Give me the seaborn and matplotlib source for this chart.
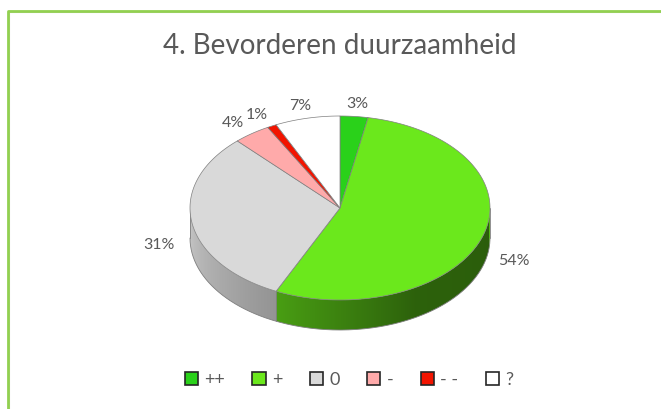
import numpy as np
import matplotlib.pyplot as plt
import seaborn as sns
from matplotlib.patches import Polygon, Patch
from matplotlib.colors import to_rgb

# data
labels = ['++', '+', '0', '-', '- -', '?']
values = [3, 54, 31, 4, 1, 7]
pct_labels = ['3%', '54%', '31%', '4%', '1%', '7%']
colors = ['#2AD11A', '#6BE81C', '#D9D9D9', '#FFAAAA', '#F21400', '#FFFFFF']
title = '4. Bevorderen duurzaamheid'

sns.set_theme(style='white')
plt.rcParams['font.family'] = ['Lato', 'DejaVu Sans']

fig = plt.figure(figsize=(6.61, 4.09), dpi=100)
ax = fig.add_axes([0, 0, 1, 1])
ax.set_xlim(0, 661)
ax.set_ylim(409, 0)
ax.axis('off')

# ellipse geometry of the 3D pie (pixel units)
cx, cy, rx, ry, depth = 340, 208, 150, 92, 30
edge = '#7f7f7f'

frac = np.array(values) / sum(values)
ends = 90 - 360 * np.cumsum(frac)
starts = ends + 360 * frac


def pt(t, dy=0.0):
    r = np.radians(t)
    return cx + rx * np.cos(r), cy - ry * np.sin(r) + dy


def shade(t):
    t = np.mod(t, 360)
    return np.interp(t, [180, 245, 300, 360], [0.92, 0.68, 0.42, 0.40])


# side walls (front half only), gradient image clipped to each wall piece
xg = np.linspace(cx - rx, cx + rx, 400)
tg = 360 - np.degrees(np.arccos((xg - cx) / rx))
bounds = []
for s, e, c in zip(starts, ends, colors):
    rgb = np.array(to_rgb(c))
    for k in (-1, 0, 1):
        lo = max(e, 180 + 360 * k)
        hi = min(s, 360 + 360 * k)
        if hi <= lo:
            continue
        ts = np.linspace(lo, hi, 150)
        xs, ys = pt(ts)
        verts = list(zip(xs, ys)) + list(zip(xs[::-1], ys[::-1] + depth))
        wall = Polygon(verts, closed=True, facecolor='none', edgecolor='none')
        ax.add_patch(wall)
        img = np.clip(rgb[None, None, :] * shade(tg)[None, :, None], 0, 1)
        im = ax.imshow(img, extent=(cx - rx, cx + rx, cy + ry + depth + 2, cy - 2),
                       aspect='auto', interpolation='bilinear', zorder=1)
        im.set_clip_path(wall)
        bounds += [lo, hi]

tb = np.linspace(180, 360, 300)
xb, yb = pt(tb, depth)
ax.plot(xb, yb, color=edge, lw=0.6, zorder=2)
for t in set(np.round(bounds, 3)):
    x0, y0 = pt(t)
    ax.plot([x0, x0], [y0, y0 + depth], color=edge, lw=0.6, zorder=2)

# top face
for s, e, c in zip(starts, ends, colors):
    ts = np.linspace(s, e, 200)
    xs, ys = pt(ts)
    verts = [(cx, cy)] + list(zip(xs, ys))
    ax.add_patch(Polygon(verts, closed=True, facecolor=c, edgecolor=edge, lw=0.5, zorder=3))

# percentage labels
for s, e, lab in zip(starts, ends, pct_labels):
    m = np.radians((s + e) / 2)
    x = cx + 1.22 * rx * np.cos(m)
    y = cy - 1.14 * ry * np.sin(m)
    if np.sin(m) < 0:
        y += 0.7 * depth
    ax.text(x, y, lab, ha='center', va='center', fontsize=11.5, color='#595959')

ax.text(340, 46, title, ha='center', va='center', fontsize=20, color='#595959')

# frame line
ax.plot([9.3, 9.3, 670], [420, 12.3, 12.3], color='#d4d4d4', lw=0.8, clip_on=False)
ax.plot([7.5, 7.5, 670], [420, 10.5, 10.5], color='#92D050', lw=2, clip_on=False)

handles = [Patch(facecolor=c, edgecolor='#262626', lw=1.2) for c in colors]
fig.legend(handles, labels, ncol=6, loc='center',
           bbox_to_anchor=(349 / 661, 1 - 380 / 409), frameon=False,
           fontsize=13, handlelength=0.75, handleheight=0.75,
           handletextpad=0.35, columnspacing=1.5, labelcolor='#595959')

fig.savefig('out.png', dpi=100)
